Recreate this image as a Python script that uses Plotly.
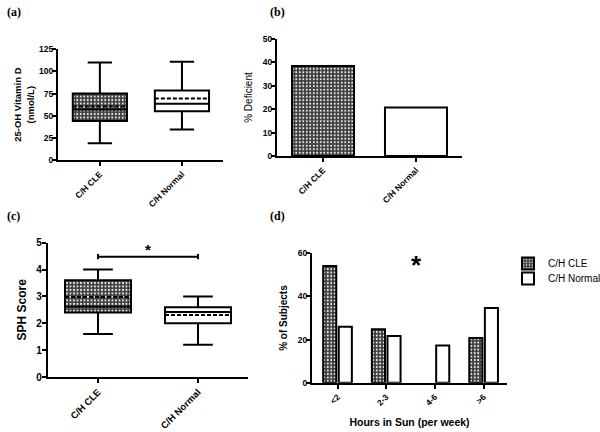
import plotly.graph_objects as go

groups = ["C/H CLE", "C/H Normal"]

# (a) 25-OH Vitamin D box stats
vd_low = [19, 34.5]
vd_q1 = [44, 55]
vd_med = [57, 63.5]
vd_mean = [60.5, 69.5]
vd_q3 = [75, 78.5]
vd_high = [110, 111]

# (b) % Deficient
deficient = [38.5, 20.7]

# (c) SPH score box stats
sph_low = [1.6, 1.2]
sph_q1 = [2.4, 2.0]
sph_med = [2.62, 2.42]
sph_mean = [2.98, 2.31]
sph_q3 = [3.6, 2.6]
sph_high = [4.0, 3.0]

# (d) Hours in sun
sun_cats = ["<2", "2-3", "4-6", ">6"]
sun_cle = [54.1, 24.8, 0, 20.7]
sun_norm = [26.0, 21.7, 17.3, 34.6]

FONT = "Arial, Liberation Sans, sans-serif"
DARK = "#3e3e3e"
PAT = dict(shape=".", size=3.5, solidity=0.25, fgcolor="#f4f4f4", bgcolor=DARK, fillmode="replace")

fig = go.Figure()

def add_boxes(xa, ya, low, q1, med, mean, q3, high, width):
    fig.add_trace(go.Bar(x=[groups[0]], y=[q3[0] - q1[0]], base=[q1[0]], width=[width],
                         marker=dict(color=DARK, pattern=PAT, line=dict(width=0)),
                         xaxis=xa, yaxis=ya, showlegend=False, hoverinfo="skip"))
    fills = ["rgba(0,0,0,0)", "white"]
    for i, g in enumerate(groups):
        fig.add_trace(go.Box(x=[g], q1=[q1[i]], median=[med[i]], mean=[mean[i]], q3=[q3[i]],
                             lowerfence=[low[i]], upperfence=[high[i]], boxmean=True,
                             width=width, whiskerwidth=0.45, fillcolor=fills[i],
                             line=dict(color="black", width=2), xaxis=xa, yaxis=ya,
                             showlegend=False, boxpoints=False))

add_boxes("x", "y", vd_low, vd_q1, vd_med, vd_mean, vd_q3, vd_high, 0.66)

fig.add_trace(go.Bar(x=groups[:1], y=deficient[:1], width=[0.667],
                     marker=dict(color=DARK, pattern=PAT, line=dict(color="black", width=2)),
                     xaxis="x2", yaxis="y2", showlegend=False))
fig.add_trace(go.Bar(x=groups[1:], y=deficient[1:], width=[0.667],
                     marker=dict(color="white", line=dict(color="black", width=2)),
                     xaxis="x2", yaxis="y2", showlegend=False))

add_boxes("x3", "y3", sph_low, sph_q1, sph_med, sph_mean, sph_q3, sph_high, 0.66)

fig.add_trace(go.Bar(x=sun_cats, y=sun_cle, name="C/H CLE",
                     marker=dict(color=DARK, pattern=PAT,
                                 line=dict(color="black", width=[0 if v == 0 else 2 for v in sun_cle])),
                     xaxis="x4", yaxis="y4", legend="legend"))
fig.add_trace(go.Bar(x=sun_cats, y=sun_norm, name="C/H Normal",
                     marker=dict(color="white", line=dict(color="black", width=2)),
                     xaxis="x4", yaxis="y4", legend="legend2"))

def xax(dom, rng, size, anchor):
    return dict(domain=dom, range=rng, anchor=anchor, type="category", showline=True,
                linecolor="black", linewidth=2, ticks="outside", ticklen=4, tickwidth=1.5,
                tickcolor="black", tickangle=-45, showgrid=False, zeroline=False, automargin=False,
                tickfont=dict(family=FONT, size=size, color="black", weight="bold"))

def yax(dom, rng, dtick, size, anchor, title, tsize, tweight="bold", standoff=6, tls=0):
    return dict(domain=dom, range=rng, anchor=anchor, dtick=dtick, showline=True,
                linecolor="black", linewidth=2, ticks="outside", ticklen=4, tickwidth=1.5,
                tickcolor="black", showgrid=False, zeroline=False, automargin=False,
                ticklabelstandoff=tls,
                tickfont=dict(family=FONT, size=size, color="black", weight="bold"),
                title=dict(text=title, font=dict(family=FONT, size=tsize, color="black", weight=tweight),
                           standoff=standoff))

W, H = 600, 432
def px_x(a, b): return [a / W, b / W]
def px_y(top, bottom): return [1 - bottom / H, 1 - top / H]

leg_common = dict(xanchor="left", yanchor="top", font=dict(family=FONT, size=10, color="black"),
                  bgcolor="rgba(0,0,0,0)", borderwidth=0, tracegroupgap=0)

fig.update_layout(
    template="none",
    width=W, height=H, margin=dict(l=0, r=0, t=0, b=0, autoexpand=False),
    paper_bgcolor="white", plot_bgcolor="white",
    barmode="group", bargap=0.36, bargroupgap=0.16, boxmode="overlay",
    xaxis=xax(px_x(58, 223), [-0.51, 1.5], 8.5, "y"),
    yaxis=yax(px_y(49.3, 160), [0, 125], 25, 8.5, "x", "25-OH Vitamin D<br>(nmol/L)", 9.5, standoff=3, tls=-3),
    xaxis2=xax(px_x(277, 462), [-0.495, 1.495], 8.5, "y2"),
    yaxis2=yax(px_y(39, 156), [0, 50], 10, 8.5, "x2", "% Deficient", 10, "normal", standoff=8, tls=-3),
    xaxis3=xax(px_x(47.7, 248), [-0.503, 1.5], 9.5, "y3"),
    yaxis3=yax(px_y(242.7, 377), [0, 5], 1, 10, "x3", "SPH Score", 12, standoff=7, tls=-2),
    xaxis4=xax(px_x(312, 507), [-0.524, 3.48], 8.5, "y4"),
    yaxis4=yax(px_y(253.3, 382.7), [0, 60], 20, 8.5, "x4", "% of Subjects", 10, standoff=8, tls=-3),
    legend=dict(x=508 / W, y=1 - 249 / H, **leg_common),
    legend2=dict(x=508 / W, y=1 - 264 / H, **leg_common),
    showlegend=True,
)
fig.update_layout(xaxis4=dict(title=dict(text="Hours in Sun (per week)",
                                         font=dict(family=FONT, size=10.5, color="black", weight="bold"),
                                         standoff=12)))

# significance bracket in (c)
fig.add_shape(type="line", xref="x3", yref="y3", x0=0, x1=1, y0=4.48, y1=4.48,
              line=dict(color="black", width=2))
for xc in [0, 1]:
    fig.add_shape(type="line", xref="x3", yref="y3", x0=xc, x1=xc, y0=4.38, y1=4.58,
                  line=dict(color="black", width=2))

annos = [
    dict(text="*", xref="x3", yref="y3", x=0.5, y=4.35, showarrow=False, yanchor="bottom",
         font=dict(family=FONT, size=15, color="black", weight="bold")),
    dict(text="*", xref="x4", yref="y4", x=1.63, y=46.8, showarrow=False, yanchor="bottom",
         font=dict(family=FONT, size=26, color="black", weight="bold")),
]
for lab, x, y in [("(a)", 5, 12), ("(b)", 268, 12), ("(c)", 5, 216), ("(d)", 268, 216)]:
    annos.append(dict(text=lab, xref="paper", yref="paper", x=x / W, y=1 - y / H,
                      xanchor="left", yanchor="middle", showarrow=False,
                      font=dict(family="Liberation Serif, Times New Roman, serif", size=12,
                                color="black", weight="bold")))
fig.update_layout(annotations=annos)

fig.write_html("out.html", config={"displayModeBar": False},
               post_script="document.body.style.margin='0';document.body.style.overflow='hidden';")
